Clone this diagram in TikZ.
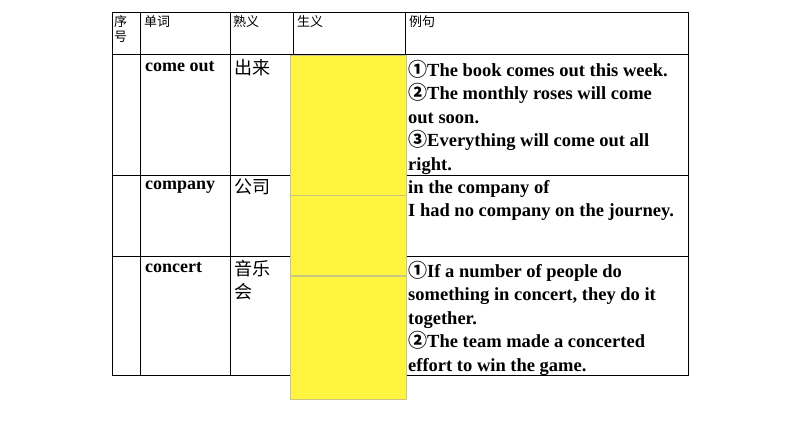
\documentclass[tikz,border=0pt]{standalone}
\usepackage{fontspec}
\setmainfont{Liberation Serif}
\newfontfamily\cjk{Noto Sans CJK SC}
\newcommand{\cn}[1]{{\cjk\fontsize{19}{23.5}\selectfont #1}}
\begin{document}
\begin{tikzpicture}[x=1pt,y=-1pt,
    headtext/.style={anchor=north west, inner sep=2pt, font=\cjk\fontsize{13}{15}\selectfont, align=left},
    wordtext/.style={anchor=north west, inner sep=3pt, font=\bfseries\fontsize{18}{23.5}\selectfont, align=left},
    meantext/.style={anchor=north west, inner sep=3pt, font=\cjk\fontsize{18}{23.5}\selectfont, align=flush left},
    exampletext/.style={anchor=north west, inner sep=2pt, text width=270pt, font=\bfseries\fontsize{18.5}{23.5}\selectfont, align=flush left},
    grid/.style={draw=black, line width=0.8pt},
    yellowbox/.style={fill=yellow!75!white, draw=yellow!60!black!60, line width=0.4pt}
]
\useasboundingbox (0,0) rectangle (794,447);

% table frame
\draw[grid] (112,12) rectangle (688,375);
\foreach \x in {140,230,293,405} \draw[grid] (\x,12) -- (\x,375);
\foreach \y in {54,175,256} \draw[grid] (112,\y) -- (688,\y);

% header
\node[headtext] (hno) at (112,13) {序\\号};
\node[headtext] (hword) at (142,13) {单词};
\node[headtext] (hold) at (231,13) {熟义};
\node[headtext] (hnew) at (295,13) {生义};
\node[headtext] (hex) at (407,13) {例句};

% rows
\node[wordtext] (w1) at (142,58) {come out};
\node[meantext] (m1) at (231,56) {出来};
\node[exampletext] (e1) at (406,58) {\cn{①}The book comes out this week.\\\cn{②}The monthly roses will come out soon.\\\cn{③}Everything will come out all right.};

\node[wordtext] (w2) at (142,178) {company};
\node[meantext] (m2) at (231,176) {公司};
\node[exampletext] (e2) at (406,178) {in the company of\\I had no company on the journey.};

\node[wordtext] (w3) at (142,259) {concert};
\node[meantext, text width=50pt] (m3) at (231,257) {音乐\\会};
\node[exampletext] (e3) at (406,259) {\cn{①}If a number of people do something in concert, they do it together.\\\cn{②}The team made a concerted effort to win the game.};

% yellow cover boxes
\node[yellowbox, anchor=north west, minimum width=116pt, minimum height=140pt, inner sep=0pt] (y1) at (290,55) {};
\node[yellowbox, anchor=north west, minimum width=116pt, minimum height=80pt, inner sep=0pt] (y2) at (y1.south west) {};
\node[yellowbox, anchor=north west, minimum width=116pt, minimum height=123pt, inner sep=0pt] (y3) at (y2.south west) {};
\end{tikzpicture}
\end{document}
